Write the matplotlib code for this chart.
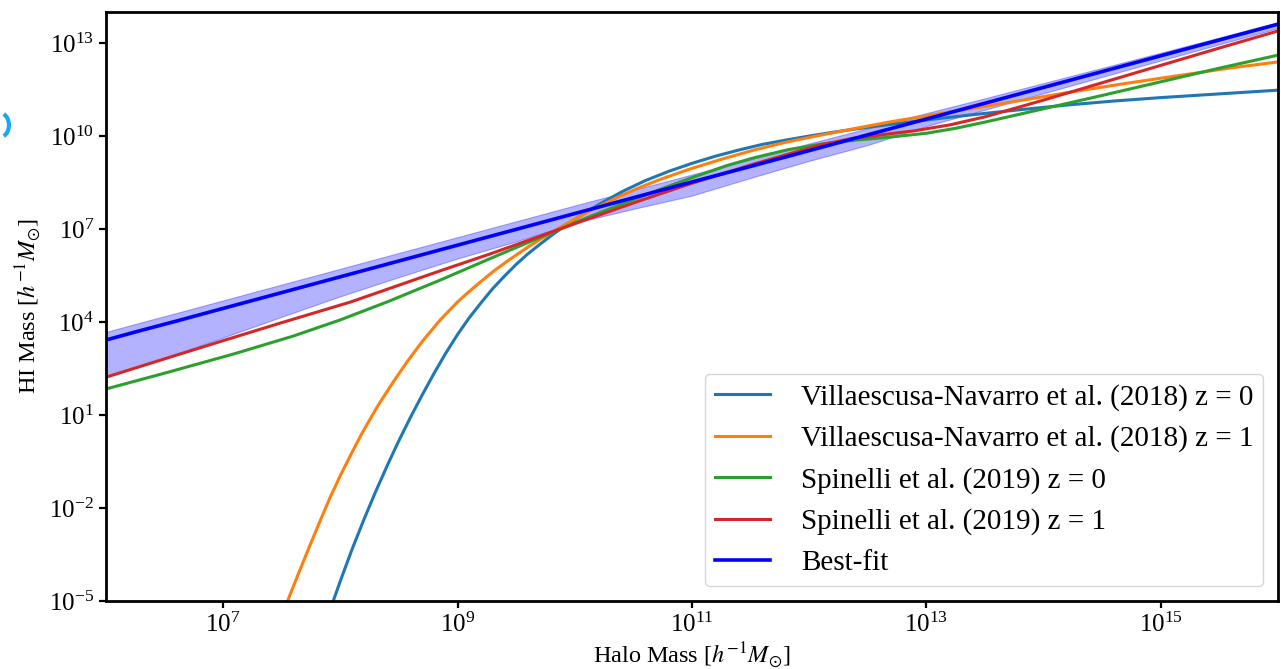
import numpy as np
import matplotlib
matplotlib.use('Agg')
import matplotlib.pyplot as plt
from matplotlib.patches import Arc

plt.rcParams['font.family'] = ['Liberation Serif', 'DejaVu Serif']
plt.rcParams['mathtext.fontset'] = 'stix'

# log10 halo mass / log10 HI mass, read per model
vn0_lm = [7.90, 8.00, 8.10, 8.20, 8.30, 8.40, 8.50, 8.60, 8.70, 8.80, 8.90, 9.00,
          9.10, 9.20, 9.30, 9.40, 9.50, 9.60, 9.70, 9.80, 9.90, 10.00, 10.20, 10.40,
          10.60, 10.80, 11.00, 11.20, 11.40, 11.60, 11.80, 12.00, 12.20, 12.40, 12.70,
          13.00, 13.40, 13.80, 14.20, 14.60, 15.00, 15.50, 16.00]
vn0_lh = [-5.42, -4.35, -3.33, -2.38, -1.48, -0.63, 0.18, 0.94, 1.66, 2.35, 3.00, 3.60,
          4.14, 4.62, 5.08, 5.48, 5.86, 6.20, 6.50, 6.79, 7.06, 7.31, 7.78, 8.20,
          8.56, 8.86, 9.12, 9.35, 9.55, 9.73, 9.87, 10.00, 10.12, 10.23, 10.38,
          10.52, 10.69, 10.85, 11.00, 11.13, 11.24, 11.36, 11.48]

vn1_lm = [7.50, 7.56, 7.64, 7.73, 7.82, 7.91, 8.00, 8.10, 8.19, 8.32, 8.45, 8.57,
          8.70, 8.85, 9.00, 9.10, 9.20, 9.31, 9.43, 9.62, 9.82, 10.00, 10.14, 10.39,
          10.56, 10.75, 10.97, 11.25, 11.53, 11.80, 12.10, 12.40, 12.68, 13.00, 13.21,
          13.50, 13.81, 14.20, 14.67, 15.24, 15.60, 16.00]
vn1_lh = [-5.48, -4.90, -4.14, -3.30, -2.48, -1.68, -0.95, -0.20, 0.45, 1.30, 2.06, 2.72,
          3.38, 4.06, 4.65, 4.99, 5.31, 5.65, 5.98, 6.47, 6.93, 7.32, 7.61, 8.07,
          8.35, 8.63, 8.92, 9.25, 9.55, 9.80, 10.03, 10.25, 10.45, 10.65, 10.78,
          10.96, 11.15, 11.40, 11.68, 12.00, 12.20, 12.39]

sp0_lm = [6.00, 6.50, 7.09, 7.60, 8.00, 8.40, 8.85, 9.28, 9.71, 10.14, 10.56, 11.00,
          11.30, 11.53, 11.82, 12.10, 12.40, 12.70, 13.00, 13.25, 13.50, 14.00, 14.50,
          15.00, 15.50, 16.00]
sp0_lh = [1.84, 2.35, 2.97, 3.55, 4.07, 4.65, 5.35, 6.05, 6.74, 7.42, 8.04, 8.66,
          9.05, 9.30, 9.56, 9.74, 9.87, 9.97, 10.09, 10.25, 10.45, 10.88, 11.31,
          11.75, 12.19, 12.61]

sp1_lm = [6.00, 6.60, 7.00, 7.50, 8.09, 8.85, 9.28, 9.71, 10.14, 10.56, 10.97, 11.53,
          12.10, 12.38, 12.68, 12.90, 13.20, 13.50, 14.00, 14.50, 15.00, 15.50, 16.00]
sp1_lh = [2.22, 2.93, 3.40, 3.98, 4.65, 5.65, 6.20, 6.78, 7.36, 7.92, 8.44, 9.10,
          9.72, 9.93, 10.07, 10.17, 10.36, 10.62, 11.16, 11.72, 12.28, 12.84, 13.39]

fit_lm = [6.0, 6.3, 6.6, 7.0, 7.5, 8.0, 8.5, 9.0, 9.5, 10.0, 10.5, 11.0, 11.5, 12.0,
          12.5, 13.0, 13.5, 14.0, 15.0, 16.0]
fit_lh = [3.42, 3.73, 4.03, 4.44, 4.95, 5.46, 5.97, 6.48, 6.99, 7.50, 8.01, 8.52, 9.02,
          9.53, 10.04, 10.55, 11.06, 11.57, 12.59, 13.61]
fit_lo = [2.25, 2.60, 2.97, 3.50, 4.17, 4.83, 5.45, 6.05, 6.60, 7.20, 7.65, 8.08, 8.65,
          9.20, 9.71, 10.32, 10.85, 11.38, 12.44, 13.48]
fit_hi = [3.68, 3.99, 4.29, 4.70, 5.21, 5.72, 6.23, 6.74, 7.25, 7.76, 8.26, 8.76, 9.25,
          9.76, 10.25, 10.74, 11.22, 11.71, 12.69, 13.67]

labels = ['Villaescusa-Navarro et al. (2018) z = 0',
          'Villaescusa-Navarro et al. (2018) z = 1',
          'Spinelli et al. (2019) z = 0',
          'Spinelli et al. (2019) z = 1',
          'Best-fit']

def p10(a):
    return 10.0**np.asarray(a)

fig = plt.figure(figsize=(12.81, 6.69), dpi=100)
ax = fig.add_axes([0.0827, 0.1016, 0.9150, 0.8804])

ax.plot(p10(vn0_lm), p10(vn0_lh), color='tab:blue', lw=2.2, label=labels[0])
ax.plot(p10(vn1_lm), p10(vn1_lh), color='tab:orange', lw=2.2, label=labels[1])
ax.plot(p10(sp0_lm), p10(sp0_lh), color='tab:green', lw=2.2, label=labels[2])
ax.plot(p10(sp1_lm), p10(sp1_lh), color='tab:red', lw=2.2, label=labels[3])
ax.fill_between(p10(fit_lm), p10(fit_lo), p10(fit_hi), color='blue', alpha=0.3, lw=0.8)
ax.plot(p10(fit_lm), p10(fit_lh), color='blue', lw=2.6, label=labels[4])

ax.set_xscale('log')
ax.set_yscale('log')
ax.set_xlim(1e6, 1e16)
ax.set_ylim(1e-5, 1e14)
ax.set_xticks([1e7, 1e9, 1e11, 1e13, 1e15])
ax.set_yticks([1e-5, 1e-2, 1e1, 1e4, 1e7, 1e10, 1e13])
ax.minorticks_off()
ax.tick_params(labelsize=18, length=5, width=1.6)
for s in ax.spines.values():
    s.set_linewidth(2)

ax.set_xlabel(r'Halo Mass [$h^{-1}M_{\odot}$]', fontsize=17.5, labelpad=2)
ax.set_ylabel(r'HI Mass [$h^{-1}M_{\odot}$]', fontsize=17.5, labelpad=4)

ax.legend(loc='lower right', fontsize=21, handlelength=1.9, handletextpad=1.05,
          framealpha=0.8, borderpad=0.35, labelspacing=0.5)

# stray marker on the left margin
fig.patches.append(Arc((0.0, 0.813), 0.014, 0.036, theta1=-80, theta2=80,
                       transform=fig.transFigure, color='#1aa8f0', lw=3))

fig.savefig('out.png', dpi=100)
